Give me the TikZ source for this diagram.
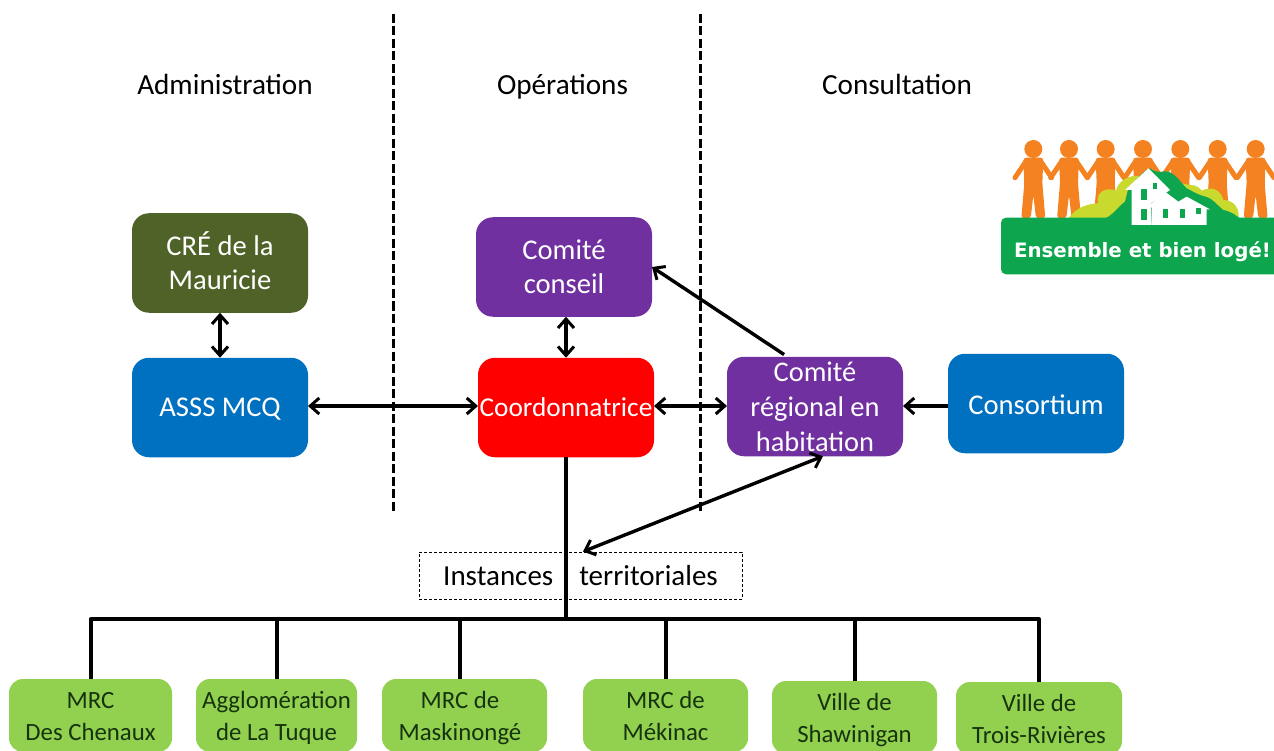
\documentclass[tikz,border=0pt]{standalone}
\usepackage{fontspec}
\setmainfont{Carlito}
\newfontfamily\logofont{DejaVu Sans}
\usetikzlibrary{arrows.meta,calc}
\definecolor{olivebox}{HTML}{4F6228}
\definecolor{bluebox}{HTML}{0070C0}
\definecolor{purplebox}{HTML}{7030A0}
\definecolor{greenbox}{HTML}{92D050}
\definecolor{greentext}{HTML}{17330E}
\definecolor{logoorange}{HTML}{F58220}
\definecolor{logogreen}{HTML}{0DA64F}
\definecolor{logolime}{HTML}{C9D92E}
\newcommand{\topstrut}[1]{\rule{0pt}{\dimexpr\ht\strutbox+#1\relax}}
\tikzset{
  basebox/.style={rounded corners=17pt,inner sep=0pt,outer sep=0pt,align=center,draw=none,
    font=\fontsize{28.6}{34}\selectfont},
  mainbox/.style={basebox,minimum width=176pt,minimum height=99.5pt,text=white},
  terrbox/.style={basebox,rounded corners=14pt,fill=greenbox,text=greentext,minimum height=73pt,
    font=\fontsize{24.8}{32}\selectfont},
  heading/.style={inner sep=0pt,anchor=base,font=\fontsize{29.2}{30}\selectfont,text=black},
  link/.style={line width=3.4pt,black},
  twoway/.style={link,{Straight Barb[length=9pt,width=16pt,line width=3pt]}-{Straight Barb[length=9pt,width=16pt,line width=3pt]}},
  oneway/.style={link,-{Straight Barb[length=9pt,width=16pt,line width=3pt]}},
  divider/.style={line width=3pt,black,dash pattern=on 9pt off 3.5pt},
  limb/.style={logoorange,line width=5pt,line cap=round}
}
\newcommand{\logoperson}[1]{%
  \begin{scope}[shift={(#1,0)}]
    \fill[logoorange] (0,87) circle (27);
    \fill[logoorange,rounded corners=3pt] (-30,113) -- (30,113) -- (27,190) -- (36,295) -- (8,295) -- (0,225) -- (-8,295) -- (-36,295) -- (-27,190) -- cycle;
    \draw[limb] (-22,124) -- (-55,173);
    \draw[limb] (22,124) -- (55,173);
  \end{scope}}
\begin{document}
\begin{tikzpicture}[x=1pt,y=-1pt]
\useasboundingbox (0,0) rectangle (1274,751);
\clip (0,0) rectangle (1274,751);
\fill[white] (0,0) rectangle (1274,751);

% dividers
\draw[divider] (393,14) -- (393,513);
\draw[divider] (700,14) -- (700,513);

% headings
\node[heading] (hadm) at (225,95) {Administration};
\node[heading] (hops) at (562.5,95) {Opérations};
\node[heading] (hcons) at (897,95) {Consultation};

% main boxes
\node[mainbox,fill=olivebox] (cre) at (220,263) {\topstrut{6pt}CRÉ de la\\Mauricie\strut};
\node[mainbox,fill=bluebox] (asss) at (220,407.5) {\topstrut{4pt}ASSS MCQ\strut};
\node[mainbox,fill=purplebox] (cc) at (564,267) {\topstrut{6pt}Comité\\conseil\strut};
\node[mainbox,fill=red,font=\fontsize{27.3}{34}\selectfont] (coord) at (566,407.5) {\topstrut{4pt}Coordonnatrice\strut};
\node[mainbox,fill=purplebox,font=\fontsize{28.4}{35}\selectfont] (crh) at (815,406.5) {Comité\\régional en\\habitation};
\node[mainbox,fill=bluebox] (cons) at (1036,403.5) {\topstrut{8pt}Consortium\strut};

% instances
\node[draw=black,densely dashed,line width=0.8pt,inner sep=0pt,minimum width=323pt,minimum height=47pt,
      font=\fontsize{29}{30}\selectfont] (inst) at (580.5,575.5) {Instances\hspace{26pt}territoriales};

% territories
\node[terrbox,minimum width=163pt] (t1) at (90.5,715.5) {\topstrut{5pt}MRC\\Des Chenaux\strut};
\node[terrbox,minimum width=161pt] (t2) at (276.5,715.5) {\topstrut{5pt}Agglomération\\de La Tuque\strut};
\node[terrbox,minimum width=165pt] (t3) at (464.5,715.5) {\topstrut{5pt}\kern-9pt MRC de\\\kern-9pt Maskinongé\strut};
\node[terrbox,minimum width=165pt] (t4) at (665.5,715.5) {\topstrut{5pt}MRC de\\Mékinac\strut};
\node[terrbox,minimum width=165pt] (t5) at (854.5,717.5) {\topstrut{5pt}Ville de\\Shawinigan\strut};
\node[terrbox,minimum width=166pt] (t6) at (1039,718.5) {\topstrut{5pt}Ville de\\Trois-Rivières\strut};

% connectors
\draw[twoway] (cre.south) -- (asss.north);
\draw[twoway] (asss.east|-0,406) -- (coord.west|-0,406);
\draw[twoway] (cc.south-|coord.south) -- (coord.north);
\draw[twoway] (coord.east|-0,406) -- (crh.west|-0,406);
\draw[oneway] (cons.west|-0,406) -- (crh.east|-0,406);
\draw[oneway,shorten <=4pt] (crh.119.5) -- (cc.east);
\draw[twoway] (crh.-81) -- (inst.84);

\coordinate (bus) at (566,619);
\draw[link,line width=4pt] (coord.south) -- (bus);
\draw[link,line width=4pt,line join=round] (t1.north) |- (bus);
\draw[link,line width=4pt,line join=round] (t6.north) |- (bus);
\draw[link,line width=4pt] (t2.north) -- (t2.north|-bus);
\draw[link,line width=4pt] ($(t3.north)+(-4.5,0)$) -- ($(t3.north|-bus)+(-4.5,0)$);
\draw[link,line width=4pt] (t4.north) -- (t4.north|-bus);
\draw[link,line width=4pt] (t5.north) -- (t5.north|-bus);

% logo
\begin{scope}[shift={(990,120)},x=0.3333pt,y=-0.3333pt]
  \foreach \px in {130,237,347,459,571,683,797} {\logoperson{\px}}
  \fill[logolime] (235,295) .. controls (260,260) and (300,250) .. (325,250)
     .. controls (315,215) and (350,200) .. (378,212) .. controls (385,180) and (420,165) .. (445,168)
     -- (600,195) .. controls (620,195) and (630,205) .. (635,212) .. controls (670,195) and (695,215) .. (700,240)
     .. controls (735,240) and (750,270) .. (745,295) -- cycle;
  \fill[logogreen] (345,295) .. controls (370,285) and (385,260) .. (405,245) -- (415,205)
     .. controls (440,180) and (460,150) .. (480,145) .. controls (510,165) and (515,150) .. (535,155)
     .. controls (560,165) and (570,185) .. (590,205) .. controls (610,215) and (625,225) .. (640,228)
     .. controls (670,235) and (680,255) .. (700,270) .. controls (725,275) and (735,285) .. (750,295) -- cycle;
  \fill[logogreen,rounded corners=5pt] (33,293) rectangle (900,463);
  \fill[white] (405,210) -- (475,145) -- (540,210) -- (482,250) -- (485,315) -- (425,315) -- (425,210) -- cycle;
  \fill[white] (470,262) -- (525,215) -- (565,245) -- (590,230) -- (660,268) -- (650,268) -- (650,315) -- (485,315) -- (485,262) -- cycle;
  \fill[logogreen] (453,207) rectangle (472,240);
  \fill[logogreen] (488,190) rectangle (502,208);
  \fill[logogreen] (453,268) rectangle (472,300);
  \fill[logogreen] (518,266) rectangle (534,293);
  \fill[logogreen] (570,266) rectangle (586,293);
  \fill[logogreen] (617,265) rectangle (632,283);
\end{scope}
\node[inner sep=0pt,anchor=base,text=white,font=\logofont\bfseries\fontsize{19.8}{22}\selectfont] (logotext) at (1142.5,258) {Ensemble et bien logé!};
\end{tikzpicture}
\end{document}
